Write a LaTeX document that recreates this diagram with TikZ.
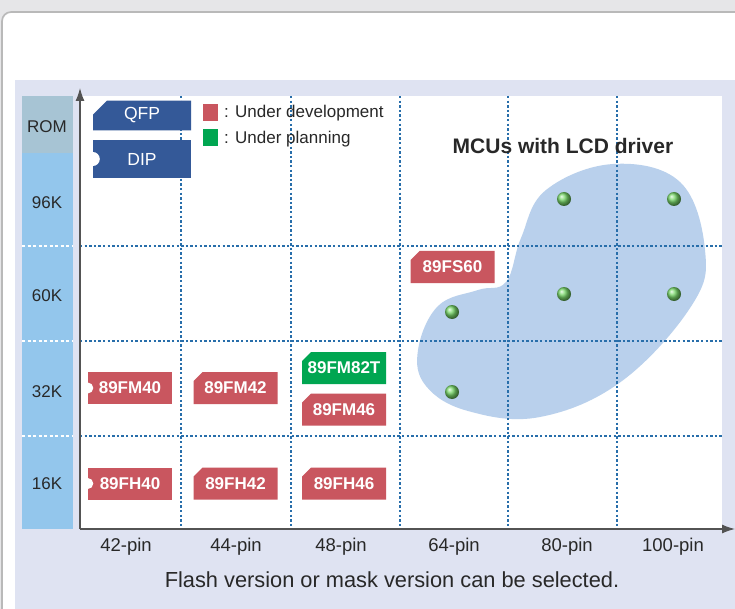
\documentclass[tikz,border=0pt]{standalone}
\usepackage{fontspec}
\setmainfont{Liberation Sans}
\usetikzlibrary{arrows.meta,shapes.misc}

\definecolor{framegray}{RGB}{230,230,232}
\definecolor{lavender}{RGB}{223,227,242}
\definecolor{romhead}{RGB}{167,196,212}
\definecolor{romcol}{RGB}{147,198,236}
\definecolor{pkgblue}{RGB}{52,89,152}
\definecolor{devred}{RGB}{201,86,95}
\definecolor{plangreen}{RGB}{0,166,81}
\definecolor{dotgreen}{RGB}{120,215,105}
\definecolor{blobblue}{RGB}{185,208,236}
\definecolor{gridblue}{RGB}{40,110,170}
\definecolor{inkgray}{RGB}{40,40,40}

\begin{document}
\begin{tikzpicture}[x=1pt, y=-1pt,
  lbl/.style={text=inkgray, font=\fontsize{17}{20}\selectfont},
  pinlbl/.style={text=inkgray, font=\fontsize{18.5}{22}\selectfont},
  tag/.style={chamfered rectangle, chamfered rectangle corners=north west,
    chamfered rectangle sep=4.5pt, minimum width=84pt, minimum height=32pt,
    inner sep=0pt, fill=devred, text=white, font=\fontsize{17}{20}\selectfont\bfseries},
  dtag/.style={rectangle, minimum width=84pt, minimum height=32pt,
    inner sep=0pt, fill=devred, text=white, font=\fontsize{17}{20}\selectfont\bfseries},
  grid/.style={gridblue, line width=1.4pt, dash pattern=on 2.4pt off 2.2pt},
  mcu/.style={ball color=dotgreen}]
\useasboundingbox (0,0) rectangle (735,609);
% frame
\fill[framegray] (0,0) rectangle (735,609);
\draw[white, fill=white, rounded corners=9pt] (3,13) rectangle (760,630);
\draw[gray!55, line width=1.6pt, rounded corners=9pt] (760,12) -- (2,12) -- (2,630);
\fill[lavender] (15,80) rectangle (735,609);
% rom column
\fill[romcol] (22,96) rectangle (73,529);
\fill[romhead] (22,96) rectangle (73,153);
\fill[white] (80,96) rectangle (722,529);
% lcd area
\fill[blobblue] plot[smooth cycle, tension=0.65] coordinates {(418,350) (438,306) (478,290) (506,282) (521,238) (546,190) (613,164) (680,182) (705,250) (692,305) (622,381) (540,417) (468,411) (426,386)};
% grid
\foreach \gx in {181,291,400,508,617}
  \draw[grid] (\gx,96) -- (\gx,529);
\foreach \gy in {246,341,436} {
  \draw[grid] (80,\gy) -- (722,\gy);
  \draw[white, line width=1.2pt, dash pattern=on 3pt off 2.5pt] (22,\gy) -- (73,\gy);
}
% axes
\coordinate (origin) at (80,529);
\coordinate (ytip) at (80,88);
\coordinate (xtip) at (735,529);
\draw[inkgray!80, line width=1.2pt, -{Latex[length=13pt,width=9pt]}] (origin) -- (ytip);
\draw[inkgray!80, line width=1.2pt, -{Latex[length=13pt,width=9pt]}] (origin) -- (xtip);
% rom labels
\node[lbl] (rom) at (47,127) {ROM};
\node[lbl] (k96) at (47,203) {96K};
\node[lbl] (k60) at (47,296) {60K};
\node[lbl] (k32) at (47,392) {32K};
\node[lbl] (k16) at (47,484) {16K};
% pin labels
\node[pinlbl] (pin42) at (126,547) {42-pin};
\node[pinlbl] (pin44) at (236,547) {44-pin};
\node[pinlbl] (pin48) at (341,547) {48-pin};
\node[pinlbl] (pin64) at (454,547) {64-pin};
\node[pinlbl] (pin80) at (567,547) {80-pin};
\node[pinlbl] (pin100) at (673,547) {100-pin};
\node[text=inkgray, font=\fontsize{21.8}{25}\selectfont] (note) at (392,580) {Flash version or mask version can be selected.};
% package key
\node[tag, fill=pkgblue, minimum width=98pt, minimum height=27pt, chamfered rectangle sep=7pt, font=\fontsize{17.5}{20}\selectfont] (qfp) at (142,115.5) {QFP};
\node[dtag, fill=pkgblue, minimum width=98pt, minimum height=38pt, font=\fontsize{17.5}{20}\selectfont] (dip) at (142,159) {DIP};
\fill[white] (dip.west) circle (7pt);
% status key
\node[fill=devred, minimum width=15pt, minimum height=17pt, inner sep=0pt] (devkey) at (210.5,112.5) {};
\node[fill=plangreen, minimum width=15pt, minimum height=17pt, inner sep=0pt] (plankey) at (210.5,138) {};
\node[lbl, anchor=west, inner sep=0pt] (devtxt) at (224,113) {: Under development};
\node[lbl, anchor=west, inner sep=0pt] (plantxt) at (224,139) {: Under planning};
% devices
\node[dtag] (fm40) at (130,388) {89FM40};
\fill[white] (fm40.west) circle (5.5pt);
\node[tag] (fm42) at (235.5,388) {89FM42};
\node[tag, fill=plangreen] (fm82t) at (344,368) {89FM82T};
\node[tag] (fm46) at (344,409.5) {89FM46};
\node[dtag] (fh40) at (130,483.5) {89FH40};
\fill[white] (fh40.west) circle (5.5pt);
\node[tag] (fh42) at (235.5,483.5) {89FH42};
\node[tag] (fh46) at (344,483.5) {89FH46};
\node[tag] (fs60) at (452.5,267) {89FS60};
% lcd mcus
\node[text=inkgray, font=\fontsize{21}{24}\selectfont\bfseries] (lcdtitle) at (563,146) {MCUs with LCD driver};
\shade[mcu] (452,312) circle (7pt);
\shade[mcu] (452,392) circle (7pt);
\shade[mcu] (564,199) circle (7pt);
\shade[mcu] (674,199) circle (7pt);
\shade[mcu] (564,294) circle (7pt);
\shade[mcu] (674,294) circle (7pt);
\end{tikzpicture}
\end{document}
